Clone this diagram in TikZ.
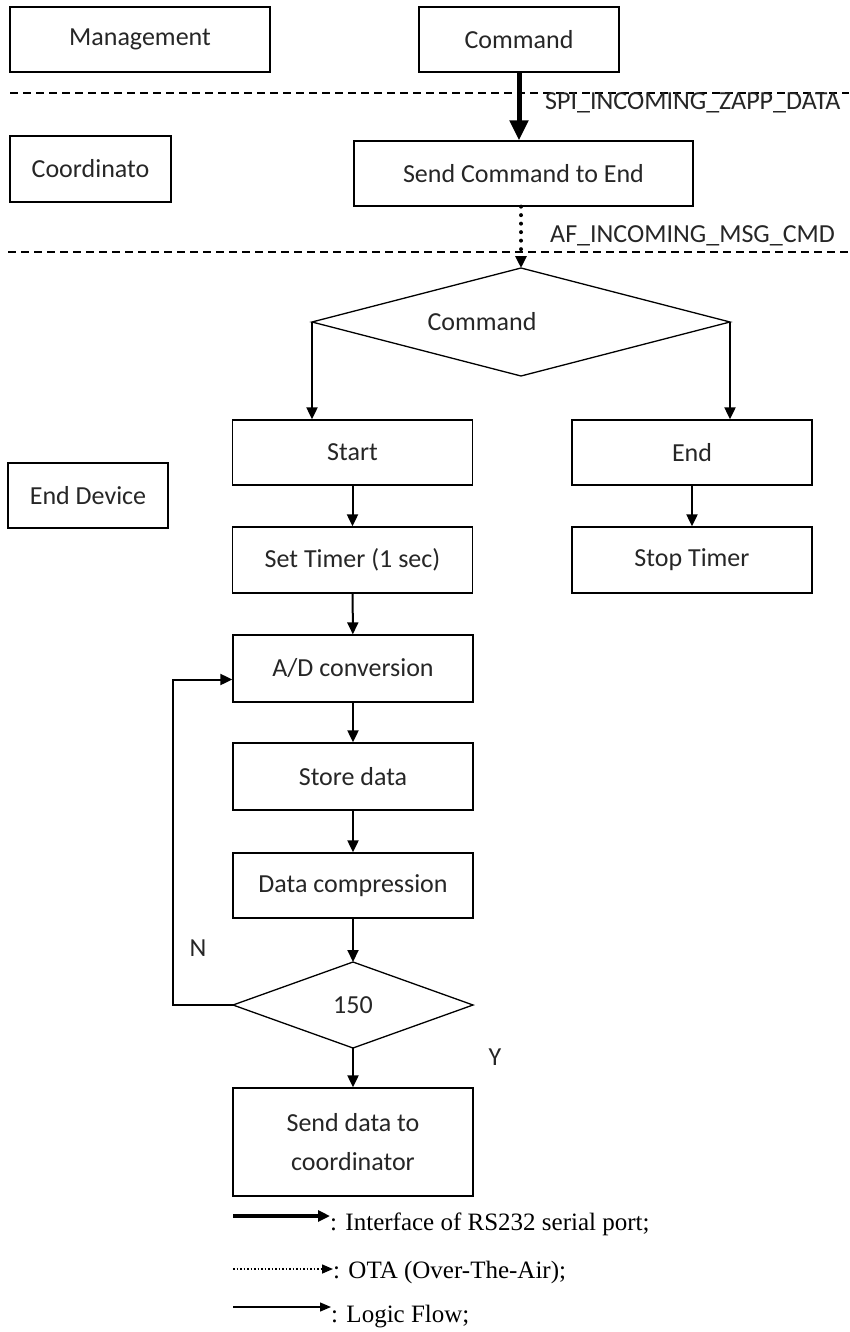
\documentclass[tikz,border=0pt]{standalone}
\usepackage{fontspec}
\setmainfont{Carlito}
\newfontfamily\legendfont{Liberation Serif}
\usetikzlibrary{arrows.meta,shapes.geometric}

\begin{document}
\begin{tikzpicture}[x=1pt,y=-1pt,
  font=\fontsize{26}{31}\selectfont,text=black!85,
  box/.style={draw=black,line width=1.3pt,minimum width=240pt,minimum height=66pt,inner sep=0pt},
  decision/.style={diamond,draw=black,line width=1.3pt,inner sep=0pt,outer sep=0pt},
  flow/.style={-{Triangle[length=12pt,width=11pt]},line width=2pt},
  serial/.style={-{Triangle[length=20pt,width=18pt]},line width=5pt},
  ota/.style={-{Triangle[length=12pt,width=11pt]},line width=4pt,line cap=round,dash pattern=on 0pt off 8.5pt},
  lane/.style={line width=1.2pt,dash pattern=on 8pt off 5pt},
  legendtext/.style={anchor=base west,inner sep=0pt,text=black,font=\legendfont\fontsize{25}{30}\selectfont}]
\useasboundingbox (0,0) rectangle (849,1332);
% the three layers
\node[box,minimum width=260pt,minimum height=65pt] (mgmt) at (140,39.5) {Management};
\node[box,minimum width=161pt] (coord) at (90.5,169) {Coordinato};
\node[box,minimum width=160pt,minimum height=65pt] (enddev) at (88,495.5) {End Device};
\draw[lane] (10,93) -- (849,93);
\draw[lane] (8,252) -- (849,252);
% management and coordinator
\node[box,minimum width=200pt,minimum height=65pt] (command) at (519,39.5) {Command};
\node[box,minimum width=339pt,minimum height=65pt] (sendcmd) at (523.5,173.5) {Send Command to End};
\draw[serial] (command.south) -- (command.south |- sendcmd.north);
\node[anchor=base west,inner sep=0pt] (spi) at (545,110) {SPI\_INCOMING\_ZAPP\_DATA};
\node[anchor=base west,inner sep=0pt] (afmsg) at (550,243) {AF\_INCOMING\_MSG\_CMD};
% end device
\node[decision,minimum width=418pt,minimum height=108pt,
      label={[xshift=-39pt]center:Command}] (cmdsel) at (521,322) {};
\draw[ota] (cmdsel.north |- sendcmd.south) -- (cmdsel.north);
\node[box,minimum height=65pt] (start) at (352.5,452.5) {Start};
\node[box,minimum height=65pt] (endcmd) at (692,452.5) {End};
\draw[flow] (cmdsel.west) -- (cmdsel.west |- start.north);
\draw[flow] (cmdsel.east) -- (cmdsel.east |- endcmd.north);
\node[box] (settimer) at (352.5,560) {Set Timer (1 sec)};
\node[box] (stoptimer) at (692,560) {Stop Timer};
\draw[flow] (start) -- (settimer);
\draw[flow] (endcmd) -- (stoptimer);
\node[box,minimum height=67pt] (adconv) at (353,668.5) {A/D conversion};
\node[box,minimum height=67pt] (store) at (353,776.5) {Store data};
\node[box,minimum height=65pt] (compress) at (353,885.5) {Data compression};
\node[decision,minimum width=240pt,minimum height=86pt] (sel150) at (353,1005) {150};
\node[box,minimum height=108pt,align=center,font=\fontsize{26}{39}\selectfont] (senddata) at (353,1142)
  {Send data to\\coordinator};
\draw[flow] (settimer) -- (adconv);
\draw[flow] (adconv) -- (store);
\draw[flow] (store) -- (compress);
\draw[flow] (compress) -- (sel150);
\draw[flow] (sel150) -- (senddata);
\draw[flow] (sel150.west) -- ++(-60,0) |- ([yshift=-11pt]adconv.west);
\node (no) at (198,948) {N};
\node (yes) at (495,1057) {Y};
% legend
\node[legendtext] (lgserial) at (330,1230) {: Interface of RS232 serial port;};
\node[legendtext] (lgota) at (333,1278) {: OTA (Over-The-Air);};
\node[legendtext] (lglogic) at (331,1322) {: Logic Flow;};
\draw[-{Triangle[length=12pt,width=11pt]},line width=4pt] (233,1216) -- (330,1216);
\draw[-{Triangle[length=11pt,width=9pt]},line width=1.5pt,dotted] (233,1269) -- (333,1269);
\draw[-{Triangle[length=11pt,width=9pt]},line width=1.2pt] (233,1307) -- (331,1307);
\end{tikzpicture}
\end{document}
